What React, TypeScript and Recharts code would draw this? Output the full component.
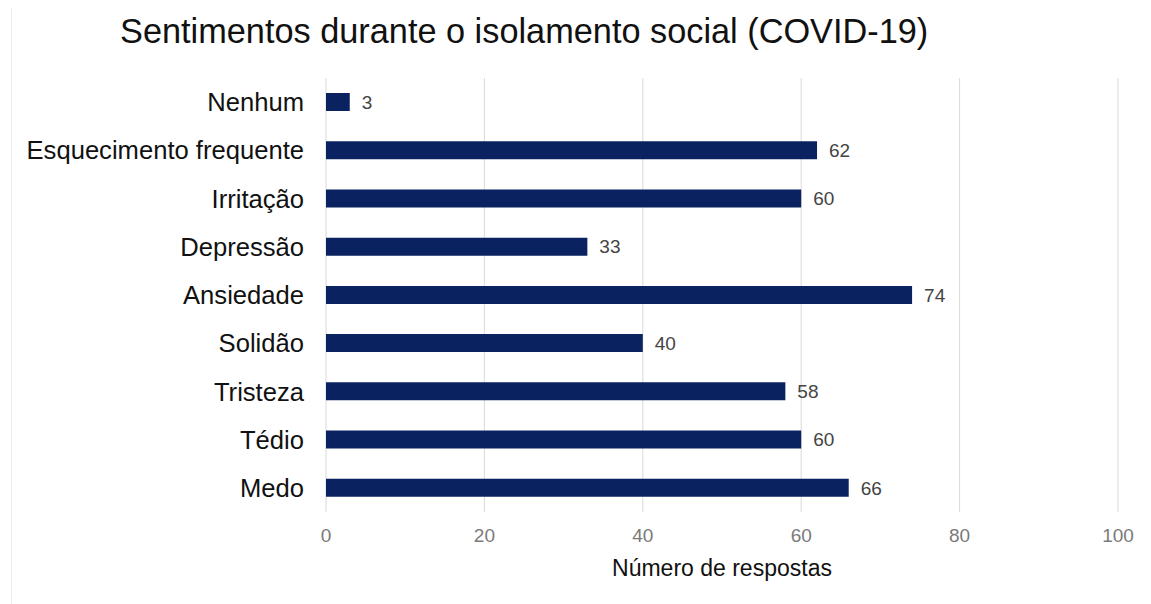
import React from 'react';
import { BarChart, Bar, XAxis, YAxis, CartesianGrid, LabelList, Label } from 'recharts';

const categories = ['Nenhum', 'Esquecimento frequente', 'Irritação', 'Depressão', 'Ansiedade', 'Solidão', 'Tristeza', 'Tédio', 'Medo'];
const values = [3, 62, 60, 33, 74, 40, 58, 60, 66];
const xTicks = [0, 20, 40, 60, 80, 100];

const data = categories.map((c, i) => ({ name: c, value: values[i] }));

const FONT = '"Liberation Sans", Arial, sans-serif';

export default function App() {
  return (
    <div style={{ position: 'absolute', left: 0, top: 0, width: 1151, height: 604, background: '#fff', fontFamily: FONT }}>
      <div style={{ position: 'absolute', left: 11, top: 8, width: 1, height: 596, background: '#ececec' }} />
      <div style={{ position: 'absolute', left: 120, top: 14, fontSize: 34.3, lineHeight: 1, color: '#111', whiteSpace: 'nowrap' }}>
        Sentimentos durante o isolamento social (COVID-19)
      </div>
      <BarChart
        width={1151}
        height={604}
        data={data}
        layout="vertical"
        margin={{ top: 78, right: 33, bottom: 0, left: 0 }}
        barCategoryGap={0}
      >
        <CartesianGrid horizontal={false} vertical={true} stroke="#d9d9d9" />
        <XAxis
          type="number"
          domain={[0, 100]}
          ticks={xTicks}
          axisLine={false}
          tickLine={false}
          tickSize={0}
          tickMargin={17}
          height={92}
          tick={{ fill: '#7a7a7a', fontSize: 19, fontFamily: FONT }}
        >
          <Label value="Número de respostas" position="insideBottom" offset={28} fill="#111" fontSize={23} fontFamily={FONT} />
        </XAxis>
        <YAxis
          type="category"
          dataKey="name"
          width={326}
          axisLine={false}
          tickLine={false}
          tickSize={0}
          tickMargin={22}
          interval={0}
          tick={{ fill: '#111', fontSize: 25.6, fontFamily: FONT }}
        />
        <Bar dataKey="value" fill="#0a2360" barSize={18} isAnimationActive={false}>
          <LabelList dataKey="value" position="right" offset={12} fill="#444" fontSize={19} fontFamily={FONT} />
        </Bar>
      </BarChart>
    </div>
  );
}
